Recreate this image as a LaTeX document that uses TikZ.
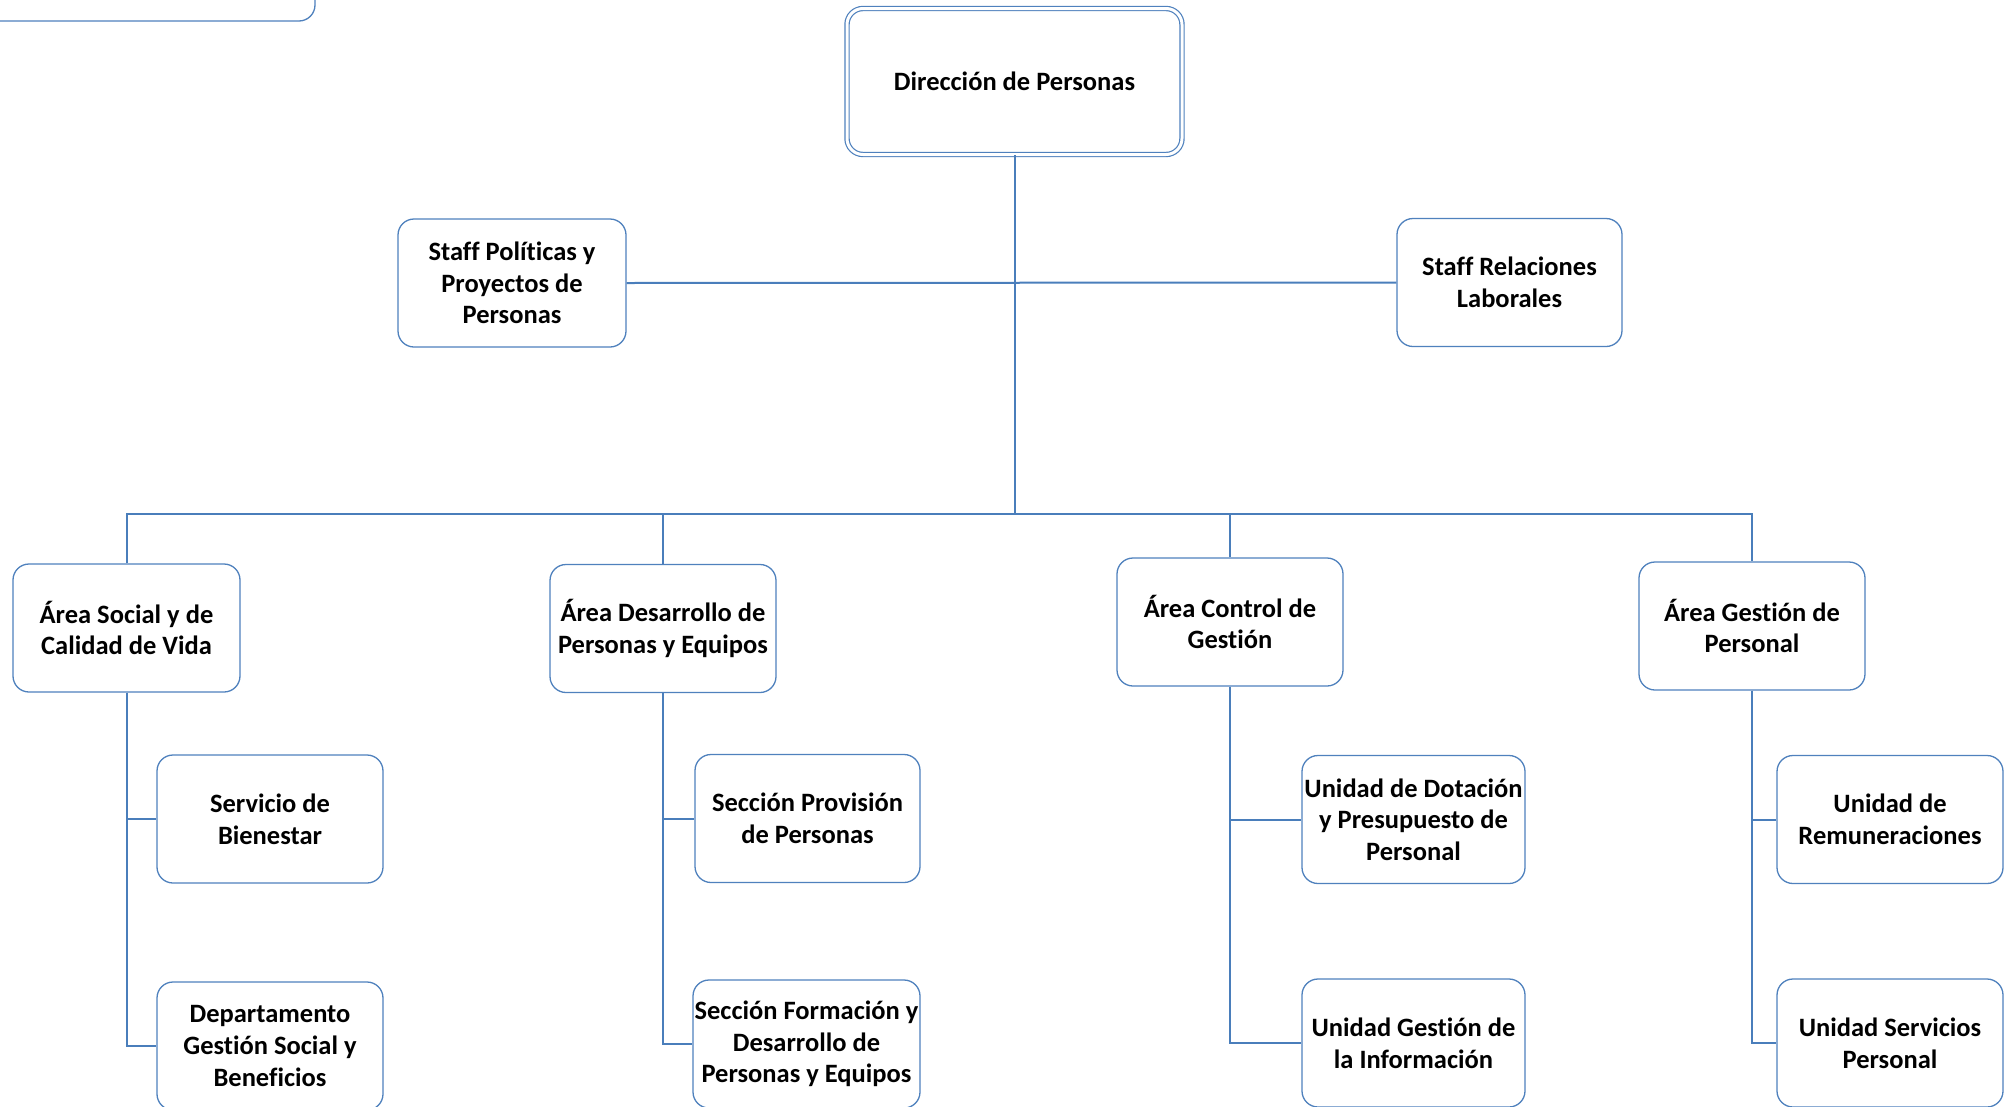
\documentclass[tikz,border=0pt]{standalone}
\usepackage{fontspec}
\setmainfont{Carlito}[Ligatures=NoCommon]
\definecolor{boxblue}{HTML}{4F81BD}
\definecolor{lineblue}{HTML}{4A7EBB}
\begin{document}
\begin{tikzpicture}[x=1pt,y=-1pt,
  orgbox/.style={draw=boxblue, line width=1.3pt, rounded corners=16pt, fill=white,
    minimum width=226pt, minimum height=128pt, inner sep=0pt, align=center,
    font=\fontsize{26.5}{31.7}\selectfont\bfseries},
  conn/.style={draw=lineblue, line width=2pt}]
\useasboundingbox (0,0) rectangle (2011,1106);
\clip (0,0) rectangle (2011,1106);
% partial box at the top left
\node[orgbox, minimum width=345pt, minimum height=80pt] (corner) at (142.5,-19) {};
% head
\node[orgbox, minimum width=335pt, minimum height=146pt, double=white, double distance=3pt, line width=1.2pt] (dir) at (1014.5,81.5) {Dirección de Personas};
\coordinate (bus) at (0,514);
% staff
\node[orgbox, minimum width=228pt] (spol) at (512,283) {Staff Políticas y\\Proyectos de\\Personas};
\node[orgbox, minimum width=225pt] (srel) at (1509.5,282.5) {Staff Relaciones\\Laborales};
% areas
\node[orgbox, minimum width=227pt] (soc) at (126.5,628) {Área Social y de\\Calidad de Vida};
\node[orgbox] (des) at (663,628.5) {Área Desarrollo de\\Personas y Equipos};
\node[orgbox] (ctl) at (1230,622) {Área Control de\\Gestión};
\node[orgbox] (ges) at (1752,626) {Área Gestión de\\Personal};
% units
\node[orgbox] (sb) at (270,819) {Servicio de\\Bienestar};
\node[orgbox] (dep) at (270,1046) {Departamento\\Gestión Social y\\Beneficios};
\node[orgbox, minimum width=225pt] (prov) at (807.5,818.5) {Sección Provisión\\de Personas};
\node[orgbox, minimum width=227pt] (form) at (806.5,1044) {Sección Formación y\\Desarrollo de\\Personas y Equipos};
\node[orgbox, minimum width=223pt] (dot) at (1413.5,819.5) {Unidad de Dotación\\y Presupuesto de\\Personal};
\node[orgbox, minimum width=223pt] (inf) at (1413.5,1043) {Unidad Gestión de\\la Información};
\node[orgbox] (rem) at (1890,819.5) {Unidad de\\Remuneraciones};
\node[orgbox] (serv) at (1890,1043) {Unidad Servicios\\Personal};
% connectors
\path[conn] (dir.south) -- (dir.south |- bus);
\path[conn] (spol.east) -- (srel.west);
\path[conn] (soc.north) -- (soc.north |- bus) -- (ges.north |- bus) -- (ges.north);
\path[conn] (des.north) -- (des.north |- bus);
\path[conn] (ctl.north) -- (ctl.north |- bus);
\path[conn] (soc.south) |- (sb.west);
\path[conn] (soc.south) |- (dep.west);
\path[conn] (des.south) |- (prov.west);
\path[conn] (des.south) |- (form.west);
\path[conn] (ctl.south) |- (dot.west);
\path[conn] (ctl.south) |- (inf.west);
\path[conn] (ges.south) |- (rem.west);
\path[conn] (ges.south) |- (serv.west);
\end{tikzpicture}
\end{document}
